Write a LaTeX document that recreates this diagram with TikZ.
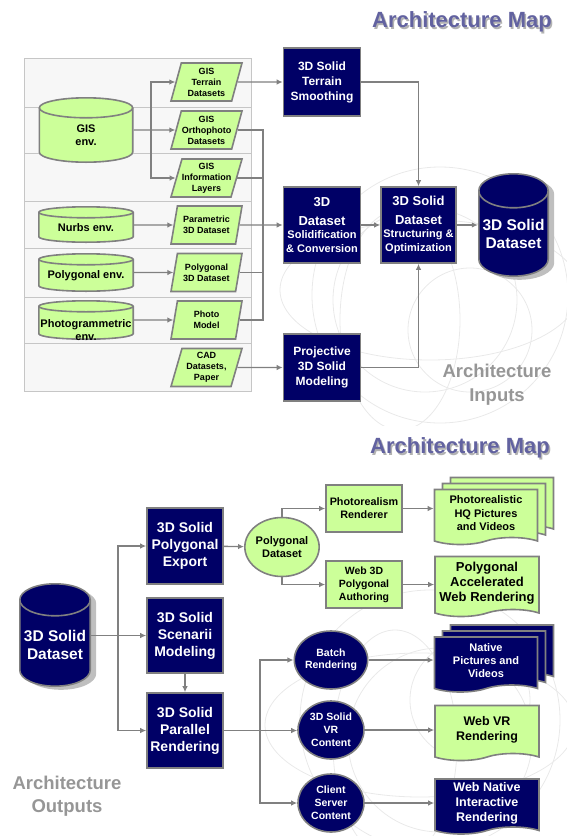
\documentclass[tikz,border=0pt]{standalone}
\usepackage{fontspec}
\setmainfont{Liberation Sans}
\usetikzlibrary{arrows.meta,positioning,shapes.geometric,shapes.symbols,shadows}

\definecolor{navyfill}{RGB}{0,0,102}
\definecolor{limefill}{RGB}{204,255,153}
\definecolor{edgegray}{RGB}{128,128,128}
\definecolor{titleblue}{RGB}{98,98,160}
\definecolor{captiongray}{RGB}{150,150,150}
\definecolor{panelgray}{RGB}{247,247,247}

\newcommand{\fsz}[2]{\fontsize{#1}{#2}\selectfont\bfseries}

% database drum: centre x, centre y, x radius, half height, end radius, fill, shadow offset
\newcommand{\drum}[7]{%
	\begin{scope}[shift={(#1,#2)}, x=1pt, y=1pt]
		\fill[black!25, shift={(#7,-0.6*#7)}] (-#3,#4-#5) -- (-#3,-#4+#5)
			arc[start angle=180, end angle=360, x radius=#3, y radius=#5]
			-- (#3,#4-#5) arc[start angle=0, end angle=180, x radius=#3, y radius=#5] -- cycle;
		\filldraw[fill=#6, draw=edgegray, line width=1.6pt] (-#3,#4-#5) -- (-#3,-#4+#5)
			arc[start angle=180, end angle=360, x radius=#3, y radius=#5]
			-- (#3,#4-#5) arc[start angle=0, end angle=180, x radius=#3, y radius=#5] -- cycle;
		\draw[edgegray, line width=1.6pt] (-#3,#4-#5)
			arc[start angle=180, end angle=360, x radius=#3, y radius=#5];
	\end{scope}}

\tikzset{%
	navybox/.style   = {draw=edgegray, fill=navyfill, text=white, line width=1.6pt, rectangle, minimum width=77pt, inner sep=1pt, align=center, font=\fsz{12}{15}},
	limebox/.style   = {draw=edgegray, fill=limefill, line width=1.6pt, rectangle, minimum width=76pt, minimum height=47pt, inner sep=1pt, align=center, font=\fsz{10.8}{13}},
	datain/.style    = {draw=edgegray, fill=limefill, line width=1.6pt, trapezium, trapezium left angle=70, trapezium right angle=110, trapezium stretches body, minimum width=71pt, minimum height=38pt, inner xsep=-5pt, inner ysep=0pt, align=center, font=\fsz{9}{11}},
	envdb/.style     = {rectangle, minimum width=96pt, minimum height=30pt, inner sep=0pt, align=center, font=\fsz{11}{13}},
	soliddb/.style   = {rectangle, text=white, minimum width=72pt, minimum height=60pt, inner sep=0pt, align=center, font=\fsz{15.5}{18}},
	docnode/.style   = {draw=edgegray, line width=1.6pt, tape, tape bend top=none, tape bend height=7pt, minimum width=103pt, minimum height=55pt, inner sep=1pt, align=center},
	limestack/.style = {copy shadow={shadow xshift=16pt, shadow yshift=12pt, fill=limefill, draw=edgegray}, copy shadow={shadow xshift=8pt, shadow yshift=6pt, fill=limefill, draw=edgegray}},
	navystack/.style = {copy shadow={shadow xshift=16pt, shadow yshift=12pt, fill=navyfill, draw=edgegray}, copy shadow={shadow xshift=8pt, shadow yshift=6pt, fill=navyfill, draw=edgegray}},
	roundnode/.style = {draw=edgegray, line width=1.6pt, ellipse, minimum width=66pt, minimum height=58pt, inner sep=0pt, align=center},
	flow/.style      = {draw=edgegray, line width=1.4pt, -{Latex[length=6pt,width=5.5pt]}},
	link/.style      = {draw=edgegray, line width=1.4pt},
	globe/.style     = {draw=gray!17, line width=0.8pt},
}

\begin{document}
\begin{tikzpicture}[x=1pt,y=-1pt]
	\useasboundingbox (0,0) rectangle (567,836);

	% sketched globes behind the flow
	\begin{scope}
		\clip (258,150) rectangle (567,425);
		\draw[globe] (440,295) circle (128pt);
		\draw[globe] (425,300) circle (92pt);
		\draw[globe] (470,330) circle (62pt);
		\draw[globe] (430,290) ellipse (150pt and 70pt);
		\draw[globe] (400,320) ellipse (60pt and 110pt);
	\end{scope}
	\begin{scope}
		\clip (240,560) rectangle (567,836);
		\draw[globe] (430,720) circle (130pt);
		\draw[globe] (440,740) circle (92pt);
		\draw[globe] (470,700) circle (60pt);
		\draw[globe] (420,725) ellipse (155pt and 72pt);
		\draw[globe] (395,745) ellipse (62pt and 115pt);
	\end{scope}

	% inputs
	\node[text=black!30, font=\fsz{22}{26}] (mapshadeA) at (463.5,23.5) {Architecture Map};
	\node[text=titleblue, font=\fsz{22}{26}] (mapA) at (462,22) {Architecture Map};

	\draw[draw=gray!45, fill=panelgray, line width=0.8pt] (24,58) rectangle (251,391);
	\foreach \y in {107,153,201,248,297,343}
		\draw[gray!45, line width=0.8pt] (24,\y) -- (251,\y);

	\drum{86}{130}{46.7}{32.2}{10}{limefill}{0}
	\drum{86}{224.5}{47.2}{17.7}{5.5}{limefill}{0}
	\drum{86}{272.5}{47.2}{18.7}{5.5}{limefill}{0}
	\drum{86}{320}{47.2}{19.2}{5.5}{limefill}{0}
	\node [envdb, minimum width=95pt] (gisenv) at (86,135.5) {GIS\\env.};
	\node [envdb] (nurbsenv) at (86,228) {Nurbs env.};
	\node [envdb] (polyenv) at (86,276) {Polygonal env.};
	\node [envdb] (photoenv) at (86,330.5) {Photogrammetric\\env.};

	\node [datain] (gisterrain) at (206.5,82) {GIS\\Terrain\\Datasets};
	\node [datain] (gisortho) at (206.5,130) {GIS\\Orthophoto\\Datasets};
	\node [datain] (gisinfo) at (206.5,178) {GIS\\Information\\Layers};
	\node [datain] (paramds) at (206.5,225) {Parametric\\3D Dataset};
	\node [datain] (polyds) at (206.5,272.5) {Polygonal\\3D Dataset};
	\node [datain] (photomodel) at (206.5,320) {Photo\\Model};
	\node [datain] (caddata) at (206.5,367.5) {CAD\\Datasets,\\Paper};

	\node [navybox, minimum height=68pt] (smoothing) at (322,82) {3D Solid\\Terrain\\Smoothing};
	\node [navybox, minimum height=76pt, font=\fsz{11}{13.5}] (solidify) at (322,225) {{\fsz{13}{15}3D}\\[5pt]{\fsz{13}{15}Dataset}\\Solidification\\\& Conversion};
	\node [navybox, minimum width=75pt, minimum height=76pt, font=\fsz{11}{13.5}] (structure) at (418.5,225) {{\fsz{13}{15}3D Solid}\\[5pt]{\fsz{13}{15}Dataset}\\Structuring \&\\Optimization};
	\node [navybox, minimum height=67pt] (projective) at (322,367.5) {Projective\\3D Solid\\Modeling};
	\drum{513.5}{225}{34.7}{51.2}{17}{navyfill}{6}
	\node [soliddb, minimum width=71pt] (solidds) at (513.5,234) {3D Solid\\Dataset};

	\node[text=captiongray, font=\fsz{18.5}{24}, align=center] (inputs) at (497,385) {Architecture\\Inputs};

	\coordinate (gisfork) at (151,130);
	\coordinate (bus) at (263,225);

	\draw[flow] (gisenv.east |- gisortho) -- (gisortho);
	\draw[flow] (gisfork) |- (gisterrain);
	\draw[flow] (gisfork) |- (gisinfo);
	\draw[flow] (nurbsenv.east |- paramds) -- (paramds);
	\draw[flow] (polyenv.east |- polyds) -- (polyds);
	\draw[flow] (photoenv.east |- photomodel) -- (photomodel);
	\draw[link] (gisortho) -| (bus);
	\draw[link] (gisinfo) -| (bus);
	\draw[link] (polyds) -| (bus);
	\draw[link] (photomodel) -| (bus);
	\draw[flow] (paramds) -- (solidify);
	\draw[flow] (gisterrain) -- (smoothing);
	\draw[flow] (smoothing) -| (structure);
	\draw[flow] (solidify) -- (structure);
	\draw[flow] (structure) -- (structure -| solidds.west);
	\draw[flow] (caddata) -- (projective);
	\draw[flow] (projective) -| (structure);

	% outputs
	\node[text=black!30, font=\fsz{22}{26}] (mapshadeB) at (461.5,449.5) {Architecture Map};
	\node[text=titleblue, font=\fsz{22}{26}] (mapB) at (460,448) {Architecture Map};

	\drum{55}{635}{35.2}{51.2}{16}{navyfill}{6}
	\node [soliddb] (soliddsB) at (55,645) {3D Solid\\Dataset};
	\node [navybox, minimum width=76pt, minimum height=76pt, font=\fsz{14}{17}] (export) at (185,546) {3D Solid\\Polygonal\\Export};
	\node [navybox, minimum width=76pt, minimum height=75pt, font=\fsz{14}{17}] (scenarii) at (185,635.5) {3D Solid\\Scenarii\\Modeling};
	\node [navybox, minimum width=76pt, minimum height=75pt, font=\fsz{14}{17}] (parallel) at (185,730.5) {3D Solid\\Parallel\\Rendering};

	\node [roundnode, fill=limefill, minimum width=63pt, minimum height=59pt, font=\fsz{11}{13}] (polyset) at (282,547) {Polygonal\\Dataset};
	\node [limebox] (photoren) at (364,508.5) {Photorealism\\Renderer};
	\node [limebox, font=\fsz{10.5}{13}] (webauthor) at (364,584.5) {Web 3D\\Polygonal\\Authoring};
	\node [docnode, fill=limefill, limestack, font=\fsz{11}{13.5}] (hqdoc) at (486,513.5) {Photorealistic\\HQ Pictures\\and Videos};
	\node [docnode, fill=limefill, minimum width=104pt, minimum height=60pt, font=\fsz{13}{14.7}] (acceldoc) at (487,583) {Polygonal\\Accelerated\\Web Rendering};

	\node [roundnode, fill=navyfill, text=white, font=\fsz{10.5}{12.5}] (batch) at (331,660) {Batch\\Rendering};
	\node [roundnode, fill=navyfill, text=white, font=\fsz{10.5}{13}] (vrcontent) at (331,730) {3D Solid\\VR\\Content};
	\node [roundnode, fill=navyfill, text=white, font=\fsz{10.5}{13}] (client) at (331,803) {Client\\Server\\Content};

	\node [docnode, fill=navyfill, text=white, navystack, font=\fsz{11}{13}] (nativedoc) at (486,661) {Native\\Pictures and\\Videos};
	\node [docnode, fill=limefill, minimum width=104pt, font=\fsz{12.5}{15}] (webvr) at (487,729.5) {Web VR\\Rendering};
	\node [docnode, fill=navyfill, text=white, minimum width=104pt, font=\fsz{12.5}{15}] (webnative) at (487,803) {Web Native\\Interactive\\Rendering};

	\node[text=captiongray, font=\fsz{18.5}{23}, align=center] (outputs) at (67,796) {Architecture\\Outputs};

	\coordinate (srcfork) at (118,635.5);
	\coordinate (outfork) at (260,730.5);

	\draw[flow] (soliddsB.east |- scenarii) -- (scenarii);
	\draw[flow] (srcfork) |- (export);
	\draw[flow] (srcfork) |- (parallel);
	\draw[flow] (scenarii) -- (parallel);
	\draw[flow] (export) -- (polyset);
	\draw[flow] (polyset) |- (photoren);
	\draw[flow] (polyset) |- (webauthor);
	\draw[flow] (photoren.east) -- (photoren.east -| hqdoc.west);
	\draw[flow] (webauthor.east) -- (webauthor.east -| acceldoc.west);
	\draw[flow] (parallel.east) -- (parallel.east -| vrcontent.west);
	\draw[flow] (outfork) |- (batch);
	\draw[flow] (outfork) |- (client);
	\draw[flow] (batch.east) -- (batch.east -| nativedoc.west);
	\draw[flow] (vrcontent.east) -- (vrcontent.east -| webvr.west);
	\draw[flow] (client.east) -- (client.east -| webnative.west);
\end{tikzpicture}
\end{document}
